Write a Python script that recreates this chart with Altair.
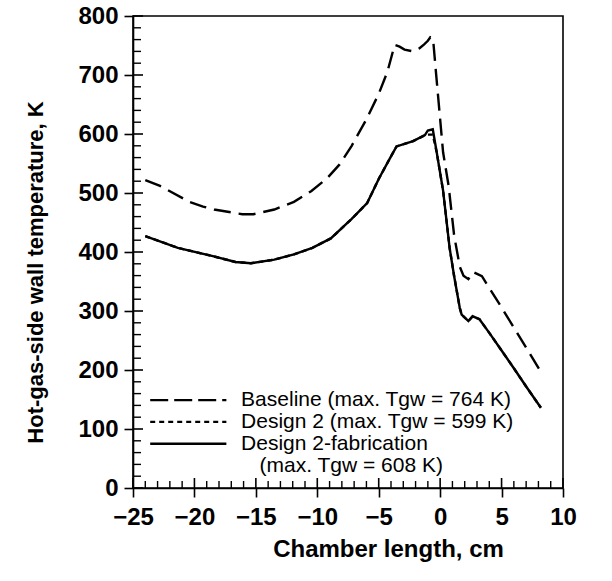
import altair as alt
import pandas as pd

# ---- data ----
base_x = [-24.0, -22.8, -20.4, -19.3, -18.4, -16.1, -15.2, -13.5, -11.9, -10.5, -9.2, -8.2, -7.2, -6.0, -5.0,
          -4.3, -3.7, -3.3, -2.9, -2.2, -1.7, -1.3, -1.0, -0.8, -0.58, -0.3, 0.0, 0.24, 0.69, 1.14, 1.6,
          1.9, 2.3, 2.7, 3.4, 4.0, 5.0, 6.0, 7.0, 8.1]
base_y = [522, 512, 485, 477, 472, 464, 464, 472, 485, 503, 525, 548, 580, 625, 668,
          705, 751, 748, 743, 740, 745, 752, 758, 764, 762, 695, 625, 569, 512, 428, 375,
          360, 354, 366, 359, 339, 306, 272, 238, 200]

fab_x = [-24.0, -21.35, -18.5, -16.66, -15.4, -13.5, -11.9, -10.4, -8.9, -7.2, -5.94, -4.97, -4.0, -3.55,
         -2.2, -1.24, -1.0, -0.6, -0.28, 0.24, 0.77, 1.14, 1.6, 1.75, 2.3, 2.65, 3.2, 4.0, 5.0, 6.0, 7.0, 8.2]
fab_y = [427, 407, 393, 383, 381, 387, 396, 407, 423, 456, 483, 525, 562, 579,
         588, 598, 606, 608, 569, 504, 407, 359, 305, 294, 283, 291, 286, 263, 233, 203, 172, 136]
d2_y = [427, 407, 393, 383, 381, 387, 396, 407, 423, 456, 483, 525, 562, 579,
        588, 598, 599, 599, 569, 504, 407, 359, 305, 294, 283, 291, 286, 263, 233, 203, 172, 136]

legend_labels = ["Baseline (max. Tgw = 764 K)", "Design 2 (max. Tgw = 599 K)",
                 "Design 2-fabrication", "(max. Tgw = 608 K)"]
legend_rows_y = [149, 112, 75, 38]

x_major = [-25, -20, -15, -10, -5, 0, 5, 10]
y_major = [0, 100, 200, 300, 400, 500, 600, 700, 800]
x_minor = [v for v in range(-25, 11) if v % 5 != 0]
y_minor = [v for v in range(0, 801, 20) if v % 100 != 0]

L, T = 133, 16
W, H = 430, 472
FONT = "Liberation Sans"

xs = alt.Scale(domain=[-25, 10], nice=False, zero=False)
ys = alt.Scale(domain=[0, 800], nice=False, zero=False)

x_axis = alt.Axis(values=x_major, format="d", title="Chamber length, cm", grid=False,
                  tickSize=9, tickWidth=1.6, tickColor="black",
                  domainColor="black", domainWidth=1.6,
                  labelFont=FONT, labelFontSize=24, labelFontWeight="bold", labelColor="black",
                  labelPadding=8, labelFlush=False, labelOverlap=False,
                  titleFont=FONT, titleFontSize=24, titleFontWeight="bold",
                  titleColor="black", titleX=255, titleY=61, titleBaseline="middle",
                  titleAlign="center", titleAnchor="middle")
y_axis = alt.Axis(values=y_major, format="d", title="Hot-gas-side wall temperature, K", grid=False,
                  tickSize=9, tickWidth=1.6, tickColor="black",
                  domainColor="black", domainWidth=1.6,
                  labelFont=FONT, labelFontSize=24, labelFontWeight="bold", labelColor="black",
                  labelPadding=6, labelFlush=False, labelOverlap=False,
                  titleFont=FONT, titleFontSize=22, titleFontWeight="bold",
                  titleColor="black", titleX=-98, titleY=256, titleBaseline="middle",
                  titleAlign="center", titleAnchor="middle")

XE = lambda f: alt.X(f, scale=xs, axis=x_axis)
YE = lambda f: alt.Y(f, scale=ys, axis=y_axis)


def line_layer(xv, yv, dash):
    df = pd.DataFrame({"x": xv, "y": yv, "i": list(range(len(xv)))})
    kw = {"strokeDash": dash} if dash else {}
    return alt.Chart(df).mark_line(color="black", strokeWidth=2.4, **kw).encode(
        x=XE("x:Q"), y=YE("y:Q"), order="i:Q")


base_line = line_layer(base_x, base_y, [17, 8])
d2_line = line_layer(fab_x, d2_y, [5, 4])
fab_line = line_layer(fab_x, fab_y, None)

# inward tick marks
xmin_df = pd.DataFrame({"x": x_minor})
xmaj_df = pd.DataFrame({"x": x_major})
ymin_df = pd.DataFrame({"y": y_minor})
ymaj_df = pd.DataFrame({"y": y_major})

tick_x_minor = alt.Chart(xmin_df).mark_rule(color="black", strokeWidth=1.4).encode(
    x=XE("x:Q"), y=alt.value(H), y2=alt.value(H - 7))
tick_x_major = alt.Chart(xmaj_df).mark_rule(color="black", strokeWidth=1.6).encode(
    x=XE("x:Q"), y=alt.value(H), y2=alt.value(H - 10))
tick_y_minor = alt.Chart(ymin_df).mark_rule(color="black", strokeWidth=1.4).encode(
    y=YE("y:Q"), x=alt.value(0), x2=alt.value(8))
tick_y_major = alt.Chart(ymaj_df).mark_rule(color="black", strokeWidth=1.6).encode(
    y=YE("y:Q"), x=alt.value(0), x2=alt.value(10))

# legend (drawn inside the plot)
leg_lines = pd.DataFrame({"x": [-23.6] * 3, "x2": [-17.4] * 3, "y": legend_rows_y[:3]})
leg_dashes = [[18, 6], [5, 4], None]
leg_layers = []
for k in range(3):
    kw = {"strokeDash": leg_dashes[k]} if leg_dashes[k] else {}
    leg_layers.append(
        alt.Chart(leg_lines.iloc[[k]]).mark_rule(color="black", strokeWidth=2.4, **kw).encode(
            x=XE("x:Q"), x2="x2:Q", y=YE("y:Q")))

leg_text_df = pd.DataFrame({"x": [-16.2, -16.2, -16.2, -14.7],
                            "y": legend_rows_y, "t": legend_labels})
leg_text = alt.Chart(leg_text_df).mark_text(
    align="left", baseline="middle", font=FONT, fontSize=21, color="black").encode(
    x=XE("x:Q"), y=YE("y:Q"), text="t:N")

chart = alt.layer(
    tick_x_minor, tick_x_major, tick_y_minor, tick_y_major,
    base_line, d2_line, fab_line, *leg_layers, leg_text,
).properties(
    width=W, height=H,
    autosize=alt.AutoSizeParams(type="none"),
    padding={"left": L, "top": T, "right": 612 - L - W, "bottom": 581 - T - H},
    background="white",
).configure_view(stroke="black", strokeWidth=1.6)

chart.save("out.html", embed_options={"renderer": "svg", "actions": False})
